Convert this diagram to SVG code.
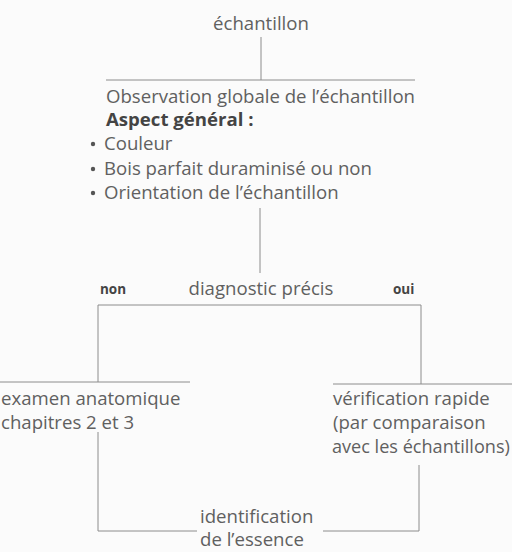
<svg xmlns="http://www.w3.org/2000/svg" width="512" height="552" viewBox="0 0 512 552">
<style>
.t{font-family:"Open Sans","Noto Sans","Liberation Sans",sans-serif;font-size:18.6px;fill:#606060}
.b{font-weight:bold;fill:#444}
.s{font-size:13.5px;font-weight:bold;fill:#444;font-family:"Open Sans","Noto Sans","Liberation Sans",sans-serif}
.l{stroke:#8c8c8c;stroke-width:1;fill:none}
</style>
<rect width="512" height="552" fill="#fbfbfb"/>
<g id="connectors">
<path class="l" d="M261 37V80M106 80H415"/>
<path class="l" d="M260 208V273"/>
<path class="l" d="M98 382V305H421V384"/>
<path class="l" d="M0 382H190M333 384H512"/>
<path class="l" d="M98 432V531H197M323 531H419V465"/>
</g>
<g id="n-echantillon"><text class="t" x="261" y="30" text-anchor="middle">échantillon</text></g>
<g id="n-observation">
<text class="t" x="106" y="103">Observation globale de l’échantillon</text>
<text class="t b" x="106" y="126">Aspect général :</text>
<circle cx="93" cy="144" r="2.2" fill="#555"/>
<text class="t" x="104" y="150">Couleur</text>
<circle cx="93" cy="169" r="2.2" fill="#555"/>
<text class="t" x="104" y="175">Bois parfait duraminisé ou non</text>
<circle cx="93" cy="193" r="2.2" fill="#555"/>
<text class="t" x="104" y="199">Orientation de l’échantillon</text>
</g>
<g id="n-diagnostic">
<text class="t" x="261" y="295" text-anchor="middle">diagnostic précis</text>
<text class="s" x="100" y="294">non</text>
<text class="s" x="393" y="294">oui</text>
</g>
<g id="n-examen">
<text class="t" x="1" y="405">examen anatomique</text>
<text class="t" x="1" y="429">chapitres 2 et 3</text>
</g>
<g id="n-verification">
<text class="t" x="333" y="405">vérification rapide</text>
<text class="t" x="333" y="429">(par comparaison</text>
<text class="t" x="332" y="453" style="font-size:18.1px">avec les échantillons)</text>
</g>
<g id="n-identification">
<text class="t" x="200" y="523">identification</text>
<text class="t" x="200" y="546">de l’essence</text>
</g>
</svg>
